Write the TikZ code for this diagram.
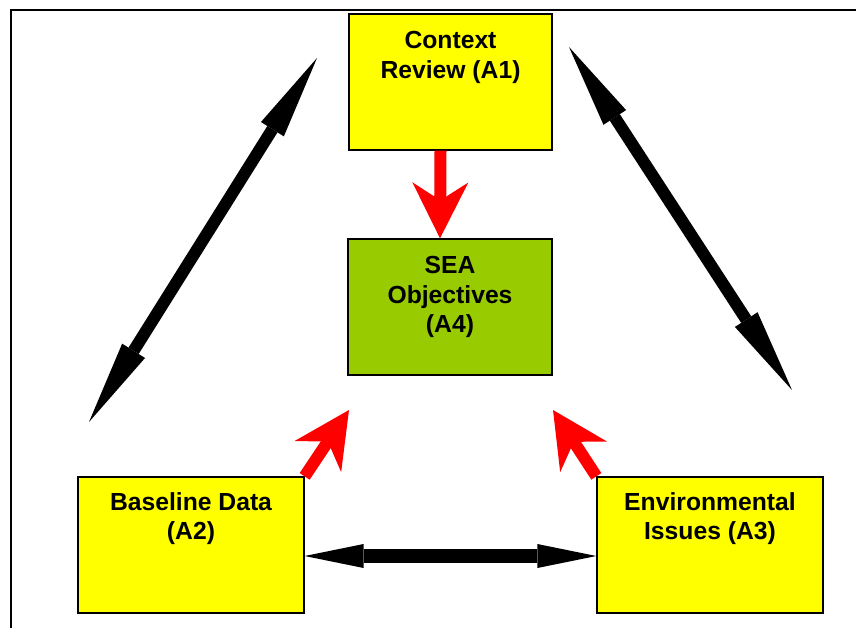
\documentclass[tikz,border=0pt]{standalone}
\usepackage{fontspec}
\setmainfont{Liberation Sans}
\usetikzlibrary{arrows.meta}
\definecolor{boxyellow}{HTML}{FFFF00}
\definecolor{boxgreen}{HTML}{99CC00}
\definecolor{arrred}{HTML}{FF0000}
\tikzset{
  box/.style={draw=black, line width=1.3pt, rectangle, minimum height=136pt, inner sep=0pt},
  boxtext/.style={anchor=north, inner sep=0pt, align=center,
    font=\fontsize{24.7pt}{29.5pt}\selectfont\bfseries},
  redarrow/.style={draw=arrred, line width=12pt,
    -{Stealth[length=56pt, width=56pt, inset=18pt, line width=0pt]}},
  blackdouble/.style={draw=black, line width=12pt,
    {Triangle[length=84pt, width=27pt, line width=0pt]}-{Triangle[length=84pt, width=27pt, line width=0pt]}},
  blackflat/.style={draw=black, line width=14pt,
    {Triangle[length=59pt, width=24pt, line width=0pt]}-{Triangle[length=59pt, width=24pt, line width=0pt]}},
}
\begin{document}
\begin{tikzpicture}[x=1pt, y=-1pt]
\useasboundingbox (0,0) rectangle (856,627);
\clip (0,0) rectangle (856,627);
\draw[line width=2.6pt, black] (11,10) rectangle (880,650);

\node[box, fill=boxyellow, minimum width=203pt] (A1) at (450.5,82) {};
\node[box, fill=boxgreen, minimum width=204pt] (A4) at (450,307) {};
\node[box, fill=boxyellow, minimum width=226pt] (A2) at (191,545) {};
\node[box, fill=boxyellow, minimum width=226pt] (A3) at (710,545) {};

\node[boxtext] (A1t) at ([yshift=-18pt]A1.north) {Context\\Review (A1)};
\node[boxtext] (A4t) at ([yshift=-18pt]A4.north) {SEA\\Objectives\\(A4)};
\node[boxtext] (A2t) at ([yshift=-16pt]A2.north) {Baseline Data\\(A2)};
\node[boxtext] (A3t) at ([yshift=-16pt]A3.north) {Environmental\\Issues (A3)};

\coordinate (L1) at (89,422);
\coordinate (L2) at (317,58);
\coordinate (R1) at (569,47);
\coordinate (R2) at (792,390);
\coordinate (RL) at (349,410);
\coordinate (RR) at (553,410);

\draw[blackdouble] (L1) -- (L2);
\draw[blackdouble] (R1) -- (R2);
\draw[blackflat] ([yshift=-11pt]A2.east) -- ([yshift=-11pt]A3.west);

\draw[redarrow] ([xshift=-10pt]A1.south) -- ([xshift=-10pt]A4.north);
\draw[redarrow] (A2.north east) -- (RL);
\draw[redarrow] (A3.north west) -- (RR);
\end{tikzpicture}
\end{document}
